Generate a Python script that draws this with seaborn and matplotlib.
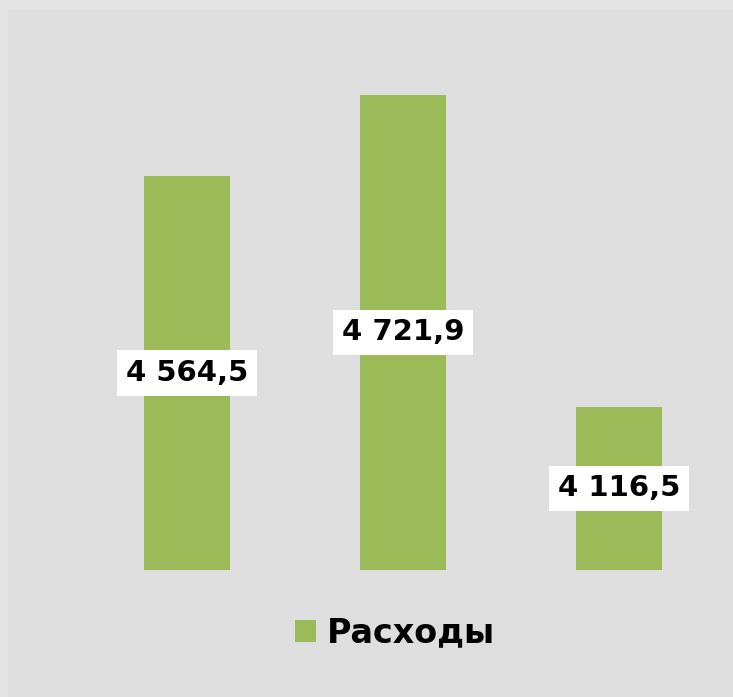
import matplotlib
matplotlib.use("Agg")
import matplotlib.pyplot as plt
from matplotlib.patches import Rectangle
import pandas as pd
import seaborn as sns

# данные
categories = ["2019", "2020", "2021"]
values = [4564.5, 4721.9, 4116.5]
labels = ["4 564,5", "4 721,9", "4 116,5"]
series_name = "Расходы"

df = pd.DataFrame({"cat": categories, "val": values, "series": series_name})

sns.set_theme(style="white")
plt.rcParams["font.family"] = ["DejaVu Sans"]
plt.rcParams["text.color"] = "black"

fig = plt.figure(figsize=(7.33, 6.97), dpi=100)
fig.patch.set_facecolor("#e4e4e4")
fig.patches.append(Rectangle((8 / 733, 0), 1, 687 / 697, transform=fig.transFigure,
                             facecolor="#dedede", edgecolor="none", zorder=-5))

ymin, ymax = 3800, 4900
scale = (570 - 95) / (4721.9 - ymin)
h_px = (ymax - ymin) * scale
ax = fig.add_axes([79 / 733, 127 / 697, 648 / 733, h_px / 697])
ax.set_zorder(2)
ax.patch.set_alpha(0)

sns.barplot(data=df, x="cat", y="val", hue="series", palette=["#9bbb59"],
            width=0.4, ax=ax, legend=True, saturation=1, edgecolor="none")
ax.set_ylim(ymin, ymax)
ax.set_xlim(-0.5, 2.5)
ax.set_xticks([])
ax.set_yticks([])
ax.set_xlabel("")
ax.set_ylabel("")
for s in ax.spines.values():
    s.set_visible(False)

for i, (v, lab) in enumerate(zip(values, labels)):
    ax.text(i, (ymin + v) / 2, lab, ha="center", va="center", fontsize=21,
            fontweight="bold", color="black",
            bbox=dict(boxstyle="square,pad=0.3", facecolor="white", edgecolor="none"))

handles, labs = ax.get_legend_handles_labels()
ax.get_legend().remove()
fig.legend(handles, labs, loc="center", bbox_to_anchor=(395 / 733, 1 - 633 / 697),
           frameon=False, prop={"size": 24, "weight": "bold"},
           handlelength=0.63, handleheight=0.63, handletextpad=0.3)

fig.savefig("out.png", dpi=100, facecolor=fig.get_facecolor())
